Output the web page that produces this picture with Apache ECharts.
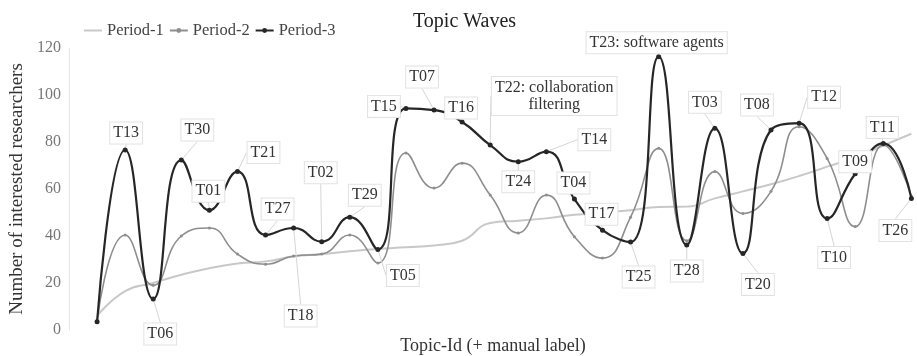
<!DOCTYPE html>
<html>
<head>
<meta charset="utf-8">
<title>Topic Waves</title>
<script src="https://cdn.jsdelivr.net/npm/echarts@6/dist/echarts.min.js"></script>
<style>
  html, body { margin: 0; padding: 0; background: #fff; }
  #chart { width: 917px; height: 356px; }
</style>
</head>
<body>
<div id="chart"></div>
<script>
// Topics in plotting order (left to right)
const topics = ['T19','T13','T06','T30','T01','T21','T27','T18','T02','T29',
                'T05','T15','T07','T16','T22','T24','T14','T04','T17','T25',
                'T23','T28','T03','T20','T08','T12','T10','T09','T11','T26'];

// Hand-written topic descriptions shown next to the id
const manualLabels = { T22: 'collaboration\nfiltering', T23: 'software agents' };

// Interested researchers per topic in each period
const period1 = [6, 16.5, 20, 23.5, 26.3, 28.3, 29.2, 31.3, 32.3, 33.5,
                 34.5, 35.2, 36, 38, 45.5, 46.5, 47.5, 49, 50, 51,
                 52.3, 52.5, 56, 59, 62, 65.5, 69.5, 73.5, 78.5, 83.5];
const period2 = [4, 40.4, 19, 40, 43.4, 32.3, 28, 31.5, 32.3, 40.4,
                 28.5, 75.3, 60.4, 71, 57.4, 41.3, 57.4, 39.7, 30.6, 48,
                 77.3, 38, 67.4, 49.6, 59, 86.5, 73, 44, 78.7, 57];
const period3 = [3.5, 76.6, 13.2, 72.3, 51, 67.4, 40.4, 43.4, 37.6, 48,
                 34.3, 94.3, 93.6, 88.5, 78.7, 71.6, 75.9, 55.7, 42.5, 37.4,
                 116.3, 36.2, 85.8, 32.6, 85.1, 88, 47.5, 66.5, 79.4, 56];

// Y axis ticks
const yTicks = [0, 20, 40, 60, 80, 100, 120];

// Callout placement: offset of each label box centre from its point (px)
const labelOffset = {
  T13: [1, -17],  T06: [7, 35],   T30: [16, -30], T01: [-1, -19], T21: [26, -19],
  T27: [12, -26], T18: [7, 88],   T02: [-1, -69], T29: [15, -22], T05: [25, 26],
  T15: [-22, -2], T07: [-12, -33], T16: [-1, -14], T22: [64, -49], T24: [0, 20],
  T14: [48, -12], T04: [-1, -16], T17: [-1, -16], T25: [8, 35],   T23: [-2, -14],
  T28: [0, 26],   T03: [-10, -26], T20: [15, 31], T08: [-14, -25], T12: [25, -26],
  T10: [7, 39],   T09: [0, -12],  T11: [-1, -16], T26: [-16, 32]
};

const serif = "'Liberation Serif', 'Times New Roman', serif";

function toPoints(values) {
  return values.map((v, i) => [i + 1, v]);
}

const p3Data = period3.map((v, i) => ({
  value: [i + 1, v],
  name: topics[i],
  label: { show: !!labelOffset[topics[i]] }
}));

const chart = echarts.init(document.getElementById('chart'), null, { renderer: 'canvas' });

chart.setOption({
  backgroundColor: '#ffffff',
  animation: false,
  title: {
    text: 'Topic Waves',
    left: 408,
    top: 7,
    textStyle: { fontFamily: serif, fontSize: 20, fontWeight: 'normal', color: '#222' }
  },
  legend: {
    left: 78,
    top: 17,
    padding: 5,
    itemWidth: 18,
    itemHeight: 6,
    itemGap: 5,
    textStyle: { fontFamily: serif, fontSize: 16.5, color: '#444' },
    data: [
      { name: 'Period-1', itemStyle: { opacity: 0 } },
      'Period-2',
      'Period-3'
    ]
  },
  grid: { left: 69, right: 0, top: 48, bottom: 26, outerBoundsMode: 'none' },
  xAxis: {
    type: 'value',
    min: 0,
    max: 30.2,
    name: 'Topic-Id (+ manual label)',
    nameLocation: 'middle',
    nameGap: 7,
    nameTextStyle: { fontFamily: serif, fontSize: 18, color: '#333' },
    axisLine: { show: false },
    axisTick: { show: false },
    axisLabel: { show: false },
    splitLine: { show: false }
  },
  yAxis: {
    type: 'value',
    min: yTicks[0],
    max: yTicks[yTicks.length - 1],
    interval: yTicks[1] - yTicks[0],
    name: 'Number of interested researchers',
    nameLocation: 'middle',
    nameGap: 42,
    nameTextStyle: { fontFamily: serif, fontSize: 19, color: '#333' },
    axisLine: { show: true, lineStyle: { color: '#e6e6e6', width: 1 } },
    axisTick: { show: false },
    axisLabel: { margin: 8, fontFamily: serif, fontSize: 16, color: '#777' },
    splitLine: { show: false }
  },
  series: [
    {
      name: 'Period-1',
      type: 'line',
      smooth: true,
      symbol: 'none',
      lineStyle: { color: '#c8c8c8', width: 2 },
      itemStyle: { color: '#c8c8c8' },
      data: toPoints(period1),
      z: 2
    },
    {
      name: 'Period-2',
      type: 'line',
      smooth: true,
      symbol: 'circle',
      symbolSize: 3,
      lineStyle: { color: '#8e8e8e', width: 1.6 },
      itemStyle: { color: '#8e8e8e' },
      data: toPoints(period2),
      z: 3
    },
    {
      name: 'Period-3',
      type: 'line',
      smooth: true,
      symbol: 'circle',
      symbolSize: 5,
      lineStyle: { color: '#262626', width: 2.2 },
      itemStyle: { color: '#262626' },
      data: p3Data,
      z: 4,
      label: {
        show: true,
        position: 'inside',
        formatter: (p) => {
          const id = topics[p.dataIndex];
          return manualLabels[id] ? id + ': ' + manualLabels[id] : id;
        },
        fontFamily: serif,
        fontSize: 16,
        lineHeight: 17,
        color: '#333',
        align: 'center',
        backgroundColor: '#ffffff',
        borderColor: '#e2e2e2',
        borderWidth: 1,
        padding: [2, 3]
      },
      labelLine: {
        show: true,
        lineStyle: { color: '#d6d6d6', width: 1 }
      },
      labelLayout: (params) => {
        const off = labelOffset[topics[params.dataIndex]];
        if (!off) return {};
        const r = params.rect;
        return {
          x: r.x + r.width / 2 + off[0],
          y: r.y + r.height / 2 + off[1],
          align: 'center',
          verticalAlign: 'middle'
        };
      }
    }
  ]
});
</script>
</body>
</html>
